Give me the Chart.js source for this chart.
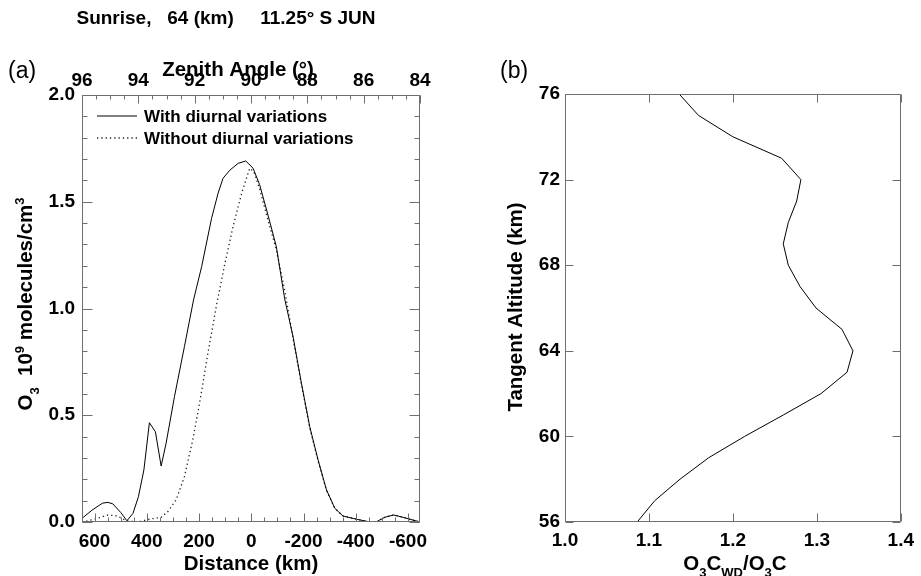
<!DOCTYPE html>
<html>
<head>
<meta charset="utf-8">
<script src="https://cdn.jsdelivr.net/npm/chart.js@4.4.1/dist/chart.umd.min.js"></script>
<style>
  body { margin: 0; background: #fff; }
  #wrap { position: relative; width: 921px; height: 576px; }
  canvas { position: absolute; top: 0; }
</style>
</head>
<body>
<div id="wrap">
  <canvas id="chartA" width="460" height="576" style="left:0"></canvas>
  <canvas id="chartB" width="461" height="576" style="left:460px"></canvas>
</div>
<script>
// panel (a): O3 along the line of sight
const distWith = [648, 610, 570, 549, 530, 500, 476, 453, 432, 411, 390, 367, 345, 326, 294, 256, 221, 190, 152, 127,
  108, 82, 50, 21, -7, -32, -64, -96, -128, -160, -192, -224, -256, -288, -320, -351, -403, -447, -479, -511, -545, -581, -646];
const o3With = [0.017, 0.055, 0.088, 0.092, 0.085, 0.045, 0.006, 0.040, 0.118, 0.244, 0.465, 0.423, 0.262, 0.369, 0.587, 0.821, 1.040, 1.196, 1.422, 1.540,
  1.610, 1.648, 1.680, 1.691, 1.657, 1.580, 1.438, 1.290, 1.045, 0.868, 0.650, 0.446, 0.290, 0.150, 0.064, 0.028, 0.013, 0.002, 0.001, 0.022, 0.033, 0.022, 0.000];
const distWithout = [648, 600, 549, 511, 479, 434, 390, 345, 320, 288, 256, 224, 198, 166, 133, 101, 70, 37, 6, -10,
  -32, -64, -96, -128, -160, -192, -224, -256, -288, -320, -351, -403, -447, -479, -511, -545, -581, -646];
const o3Without = [0.000, 0.013, 0.033, 0.028, 0.006, 0.000, 0.013, 0.022, 0.048, 0.103, 0.212, 0.384, 0.556, 0.790, 1.016, 1.210, 1.383, 1.539, 1.657, 1.640,
  1.560, 1.415, 1.275, 1.085, 0.860, 0.645, 0.440, 0.285, 0.148, 0.064, 0.028, 0.013, 0.002, 0.001, 0.022, 0.033, 0.022, 0.000];
const seriesLabels = ["With diurnal variations", "Without diurnal variations"];
const distTicks = [600, 400, 200, 0, -200, -400, -600];
const zenithTicks = [96, 94, 92, 90, 88, 86, 84];
const o3Ticks = [0, 0.5, 1.0, 1.5, 2.0];

// panel (b): ratio profile vs tangent altitude
const altitude = [56, 57, 58, 59, 60, 61, 62, 63, 64, 65, 66, 67, 68, 69, 70, 71, 72, 73, 74, 75, 76];
const ratio = [1.086, 1.107, 1.137, 1.171, 1.214, 1.260, 1.305, 1.336, 1.343, 1.330, 1.299, 1.280, 1.266, 1.260, 1.266, 1.276, 1.281, 1.258, 1.200, 1.159, 1.136];
const ratioTicks = [1.0, 1.1, 1.2, 1.3, 1.4];
const altTicks = [56, 60, 64, 68, 72, 76];

const FONT = '"Liberation Sans", Arial, Helvetica, sans-serif';
Chart.defaults.font.family = FONT;
Chart.defaults.color = '#000';

function steps(lo, hi, step) {
  const out = [];
  for (let v = lo; v <= hi + 1e-9; v += step) out.push(+v.toFixed(4));
  return out;
}

// text with sub (1) / superscript (2) parts
function drawRich(ctx, t) {
  const small = Math.round(t.size * 0.65);
  const fontFor = m => (t.bold ? 'bold ' : '') + (m ? small : t.size) + 'px ' + FONT;
  let w = 0;
  const widths = t.parts.map(([s, m]) => {
    ctx.font = fontFor(m);
    const ww = ctx.measureText(s).width;
    w += ww;
    return ww;
  });
  ctx.save();
  ctx.translate(t.x, t.y);
  ctx.rotate(t.rot || 0);
  ctx.fillStyle = '#000';
  ctx.textBaseline = 'alphabetic';
  ctx.textAlign = 'left';
  let cx = t.align === 'left' ? 0 : -w / 2;
  const base = t.size * 0.36;
  t.parts.forEach(([s, m], i) => {
    ctx.font = fontFor(m);
    const dy = m === 1 ? t.size * 0.3 : m === 2 ? -t.size * 0.4 : 0;
    ctx.fillText(s, cx, base + dy);
    cx += widths[i];
  });
  ctx.restore();
}

const frameTicks = {
  id: 'frameTicks',
  afterDatasetsDraw(chart, args, opts) {
    const { ctx, chartArea: a, scales } = chart;
    const L = Math.round(a.left) + 0.5, R = Math.round(a.right) - 0.5;
    const T = Math.round(a.top) + 0.5, B = Math.round(a.bottom) - 0.5;
    ctx.save();
    ctx.strokeStyle = '#6e6e6e';
    ctx.lineWidth = 1;
    ctx.beginPath();
    ctx.rect(L, T, R - L, B - T);
    (opts.marks || []).forEach(m => {
      const s = scales[m.scale];
      m.values.forEach(v => {
        const p = Math.round(s.getPixelForValue(v)) + 0.5;
        m.edges.forEach(e => {
          if (e === 'bottom') { ctx.moveTo(p, B); ctx.lineTo(p, B - m.len); }
          if (e === 'top') { ctx.moveTo(p, T); ctx.lineTo(p, T + m.len); }
          if (e === 'left') { ctx.moveTo(L, p); ctx.lineTo(L + m.len, p); }
          if (e === 'right') { ctx.moveTo(R, p); ctx.lineTo(R - m.len, p); }
        });
      });
    });
    ctx.stroke();

    // legend inside the plot
    if (opts.legend) {
      const g = opts.legend;
      chart.data.datasets.forEach((ds, i) => {
        const y = g.y + i * g.dy;
        ctx.strokeStyle = ds.borderColor;
        ctx.lineWidth = ds.borderWidth;
        ctx.setLineDash(ds.borderDash || []);
        ctx.beginPath();
        ctx.moveTo(g.x0, y);
        ctx.lineTo(g.x1, y);
        ctx.stroke();
        ctx.setLineDash([]);
        ctx.fillStyle = '#000';
        ctx.font = 'bold ' + g.size + 'px ' + FONT;
        ctx.textBaseline = 'middle';
        ctx.textAlign = 'left';
        ctx.fillText(ds.label, g.tx, y + 1);
      });
    }
    ctx.restore();
    (opts.texts || []).forEach(t => drawRich(ctx, t));
  }
};

const tickFont = { size: 19, weight: 'bold' };
const noGrid = { display: false, drawTicks: false };

new Chart(document.getElementById('chartA'), {
  type: 'line',
  data: {
    datasets: [
      {
        label: seriesLabels[0],
        data: distWith.map((d, i) => ({ x: d, y: o3With[i] })),
        borderColor: '#000',
        borderWidth: 1,
        pointRadius: 0,
        tension: 0
      },
      {
        label: seriesLabels[1],
        data: distWithout.map((d, i) => ({ x: d, y: o3Without[i] })),
        borderColor: '#222',
        borderWidth: 1.3,
        borderDash: [1.3, 3],
        pointRadius: 0,
        tension: 0
      }
    ]
  },
  options: {
    responsive: false,
    animation: false,
    layout: { padding: { left: 0, right: 40, top: 0, bottom: 0 } },
    plugins: {
      legend: { display: false },
      tooltip: { enabled: false },
      frameTicks: {
        marks: [
          { scale: 'x', values: distTicks, len: 8, edges: ['bottom'] },
          { scale: 'x', values: steps(-600, 600, 50), len: 4, edges: ['bottom'] },
          { scale: 'x2', values: zenithTicks, len: 8, edges: ['top'] },
          { scale: 'x2', values: steps(84, 96, 0.5), len: 4, edges: ['top'] },
          { scale: 'y', values: o3Ticks, len: 10, edges: ['left', 'right'] },
          { scale: 'y', values: steps(0, 2, 0.1), len: 5, edges: ['left', 'right'] }
        ],
        legend: { x0: 97, x1: 137, tx: 144, y: 116, dy: 22, size: 17 },
        texts: [
          { parts: [['Sunrise,   64 (km)     11.25\u00b0 S JUN', 0]], x: 226, y: 17, size: 19, bold: true },
          { parts: [['(a)', 0]], x: 8, y: 70, size: 23, align: 'left' },
          { parts: [['Zenith Angle (\u00b0)', 0]], x: 238, y: 69, size: 20.5, bold: true },
          { parts: [['Distance (km)', 0]], x: 251, y: 563, size: 20.5, bold: true },
          { parts: [['O', 0], ['3', 1], ['  10', 0], ['9', 2], [' molecules/cm', 0], ['3', 2]], x: 25, y: 304, size: 20.5, bold: true, rot: -Math.PI / 2 }
        ]
      }
    },
    scales: {
      x: {
        type: 'linear', position: 'bottom', min: -646, max: 648, reverse: true,
        afterBuildTicks: s => { s.ticks = distTicks.map(v => ({ value: v })); },
        afterFit: s => { s.height = 54; },
        grid: noGrid, border: { display: false },
        ticks: { font: tickFont, padding: 8, maxRotation: 0, autoSkip: false }
      },
      x2: {
        type: 'linear', position: 'top', min: 84, max: 96, reverse: true,
        afterBuildTicks: s => { s.ticks = zenithTicks.map(v => ({ value: v })); },
        afterFit: s => { s.height = 95; },
        grid: noGrid, border: { display: false },
        ticks: { font: tickFont, padding: 3, maxRotation: 0, autoSkip: false }
      },
      y: {
        type: 'linear', min: 0, max: 2,
        afterBuildTicks: s => { s.ticks = o3Ticks.map(v => ({ value: v })); },
        afterFit: s => { s.width = 82; },
        grid: noGrid, border: { display: false },
        ticks: { font: tickFont, padding: 7, callback: v => v.toFixed(1) }
      }
    }
  },
  plugins: [frameTicks]
});

new Chart(document.getElementById('chartB'), {
  type: 'line',
  data: {
    datasets: [{
      label: 'ratio',
      data: altitude.map((h, i) => ({ x: ratio[i], y: h })),
      borderColor: '#000',
      borderWidth: 1,
      pointRadius: 0,
      tension: 0
    }]
  },
  options: {
    responsive: false,
    animation: false,
    layout: { padding: { left: 0, right: 17, top: 94, bottom: 0 } },
    plugins: {
      legend: { display: false },
      tooltip: { enabled: false },
      frameTicks: {
        marks: [
          { scale: 'x', values: ratioTicks, len: 8, edges: ['bottom', 'top'] },
          { scale: 'y', values: altTicks, len: 8, edges: ['left', 'right'] }
        ],
        texts: [
          { parts: [['(b)', 0]], x: 40, y: 70, size: 23, align: 'left' },
          { parts: [['O', 0], ['3', 1], ['C', 0], ['WD', 1], ['/O', 0], ['3', 1], ['C', 0]], x: 275, y: 563, size: 20.5, bold: true },
          { parts: [['Tangent Altitude (km)', 0]], x: 55, y: 307, size: 20.5, bold: true, rot: -Math.PI / 2 }
        ]
      }
    },
    scales: {
      x: {
        type: 'linear', position: 'bottom', min: 1.0, max: 1.4,
        afterBuildTicks: s => { s.ticks = ratioTicks.map(v => ({ value: v })); },
        afterFit: s => { s.height = 54; },
        grid: noGrid, border: { display: false },
        ticks: { font: tickFont, padding: 7, maxRotation: 0, autoSkip: false, callback: v => v.toFixed(1) }
      },
      y: {
        type: 'linear', min: 56, max: 76,
        afterBuildTicks: s => { s.ticks = altTicks.map(v => ({ value: v })); },
        afterFit: s => { s.width = 105; },
        grid: noGrid, border: { display: false },
        ticks: { font: tickFont, padding: 5 }
      }
    }
  },
  plugins: [frameTicks]
});
</script>
</body>
</html>
